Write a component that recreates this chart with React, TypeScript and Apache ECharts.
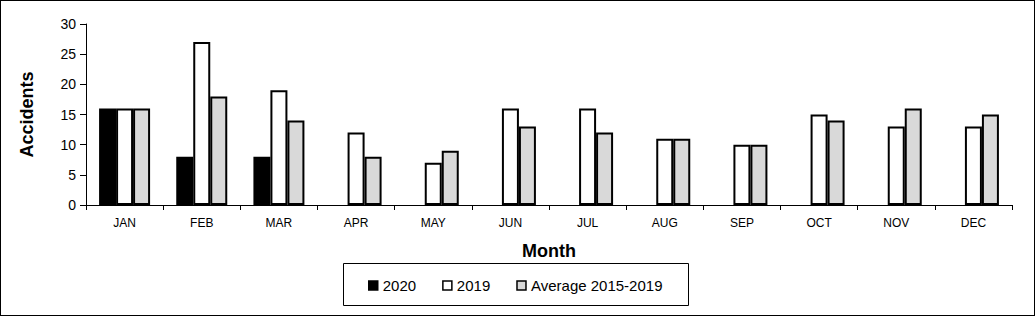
import React, { useEffect, useRef } from "react";
import * as echarts from "echarts";

const months = ["JAN", "FEB", "MAR", "APR", "MAY", "JUN", "JUL", "AUG", "SEP", "OCT", "NOV", "DEC"];
const s2020 = [16, 8, 8, null, null, null, null, null, null, null, null, null];
const s2019 = [16, 27, 19, 12, 7, 16, 16, 11, 10, 15, 13, 13];
const avg = [16, 18, 14, 8, 9, 13, 12, 11, 10, 14, 16, 15];

const FONT = "'Liberation Sans', Arial, sans-serif";

export default function App() {
  const ref = useRef<HTMLDivElement>(null);
  useEffect(() => {
    document.body.style.margin = "0";
    const chart = echarts.init(ref.current!, undefined, { renderer: "svg" });
    const barStyle = (color: string) => ({ color, borderColor: "#000", borderWidth: 2 });
    chart.setOption({
      animation: false,
      textStyle: { fontFamily: FONT, color: "#000" },
      grid: { left: 86, right: 23, top: 24, bottom: 111 },
      legend: {
        left: 363,
        top: 273,
        itemWidth: 9,
        itemHeight: 9,
        itemGap: 26,
        icon: "rect",
        textStyle: { fontFamily: FONT, fontSize: 15, color: "#000" },
        data: [
          { name: "2020", itemStyle: { color: "#000", borderColor: "#000", borderWidth: 1.5 } },
          { name: "2019", itemStyle: { color: "#fff", borderColor: "#000", borderWidth: 1.5 } },
          { name: "Average 2015-2019", itemStyle: { color: "#d9d9d9", borderColor: "#000", borderWidth: 1.5 } },
        ],
      },
      graphic: [
        { type: "rect", left: 341, top: 261, shape: { width: 345, height: 42 }, style: { fill: "none", stroke: "#000", lineWidth: 1 }, silent: true },
      ],
      xAxis: {
        type: "category",
        data: months,
        name: "Month",
        nameLocation: "middle",
        nameGap: 37,
        nameTextStyle: { fontFamily: FONT, fontSize: 18, fontWeight: "bold", color: "#000" },
        axisLine: { lineStyle: { color: "#000", width: 1 } },
        axisTick: { show: true, length: 5, lineStyle: { color: "#000" } },
        axisLabel: { fontFamily: FONT, fontSize: 12, color: "#000", margin: 12 },
      },
      yAxis: {
        type: "value",
        min: 0,
        max: 30,
        interval: 5,
        name: "Accidents",
        nameLocation: "middle",
        nameGap: 50,
        nameRotate: 90,
        nameTextStyle: { fontFamily: FONT, fontSize: 18, fontWeight: "bold", color: "#000" },
        axisLine: { show: true, lineStyle: { color: "#000", width: 1 } },
        axisTick: { show: true, length: 6, lineStyle: { color: "#000" } },
        axisLabel: { fontFamily: FONT, fontSize: 14, color: "#000", margin: 10 },
        splitLine: { show: false },
      },
      series: [
        { name: "2020", type: "bar", data: s2020, barWidth: 17, barGap: "0%", itemStyle: barStyle("#000") },
        { name: "2019", type: "bar", data: s2019, barWidth: 17, barGap: "0%", itemStyle: barStyle("#fff") },
        { name: "Average 2015-2019", type: "bar", data: avg, barWidth: 17, barGap: "0%", itemStyle: barStyle("#d9d9d9") },
      ],
    });
    return () => chart.dispose();
  }, []);
  return (
    <div style={{ position: "relative", width: 1035, height: 316 }}>
      <div ref={ref} style={{ width: 1035, height: 316 }} />
      <div style={{ position: "absolute", left: 0, top: 0, width: 1035, height: 316, boxSizing: "border-box", border: "1px solid #000", pointerEvents: "none" }} />
    </div>
  );
}
